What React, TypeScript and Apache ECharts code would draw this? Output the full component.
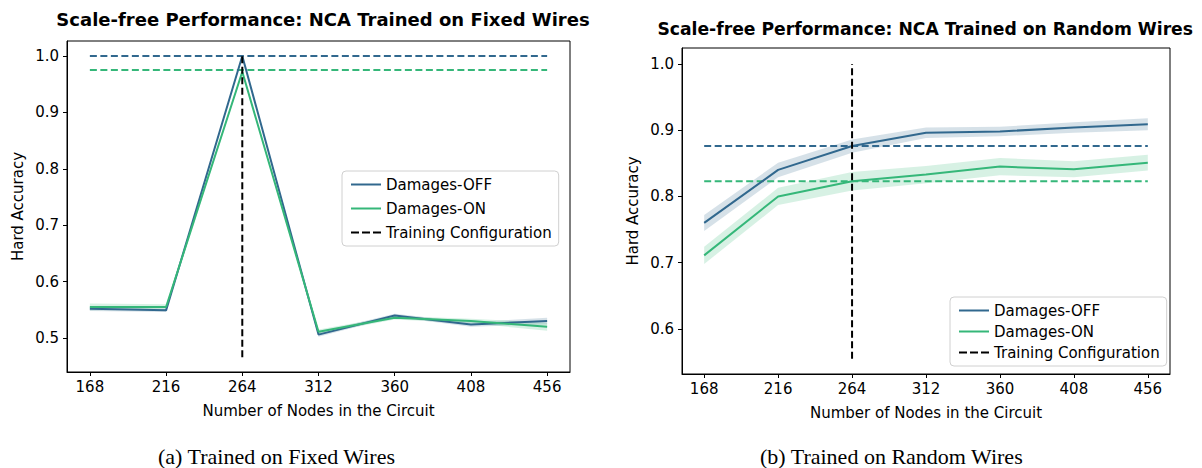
import React, { useEffect, useRef } from "react";
import * as echarts from "echarts";

const nodes = [168, 216, 264, 312, 360, 408, 456];
const yTicksA = [0.5, 0.6, 0.7, 0.8, 0.9, 1.0];
const yTicksB = [0.6, 0.7, 0.8, 0.9, 1.0];

// (a) Fixed wires
const offA = [0.552, 0.549, 1.0, 0.506, 0.540, 0.524, 0.530];
const offAErr = [0.004, 0.003, 0.002, 0.004, 0.003, 0.004, 0.006];
const onA = [0.555, 0.555, 0.972, 0.511, 0.536, 0.530, 0.520];
const onAErr = [0.006, 0.005, 0.003, 0.004, 0.003, 0.004, 0.007];
const refOffA = 1.0;
const refOnA = 0.975;
const vlineA = [0.466, 1.0];

// (b) Random wires
const offB = [0.760, 0.840, 0.876, 0.896, 0.898, 0.904, 0.909];
const offBErr = [0.012, 0.011, 0.010, 0.008, 0.007, 0.008, 0.009];
const onB = [0.711, 0.800, 0.823, 0.833, 0.845, 0.841, 0.851];
const onBErr = [0.013, 0.013, 0.014, 0.013, 0.013, 0.012, 0.012];
const refOffB = 0.876;
const refOnB = 0.823;
const vlineB = [0.555, 1.0];

const trainNodes = 264;
const C_OFF = "#31688e";
const C_ON = "#35b779";
const FONT = "DejaVu Sans";

function band(xi: number, yi: number, mean: number[], err: number[], color: string) {
  return {
    type: "custom",
    xAxisIndex: xi,
    yAxisIndex: yi,
    silent: true,
    z: 1,
    data: nodes.map((x, i) => [x, mean[i] - err[i], mean[i] + err[i]]),
    encode: { x: 0, y: [1, 2] },
    renderItem: (params: any, api: any) => {
      if (params.dataIndex !== 0) return { type: "group", children: [] };
      const up = nodes.map((x, i) => api.coord([x, mean[i] + err[i]]));
      const lo = nodes.map((x, i) => api.coord([x, mean[i] - err[i]])).reverse();
      return {
        type: "polygon",
        shape: { points: up.concat(lo) },
        style: { fill: color, opacity: 0.2 },
      };
    },
  };
}

function line(name: string, xi: number, vals: number[], color: string) {
  return {
    type: "line",
    name,
    xAxisIndex: xi,
    yAxisIndex: xi,
    data: nodes.map((x, i) => [x, vals[i]]),
    symbol: "none",
    lineStyle: { color, width: 2 },
    itemStyle: { color },
    z: 3,
  };
}

function hline(xi: number, v: number, color: string) {
  return {
    type: "line",
    name: "ref",
    xAxisIndex: xi,
    yAxisIndex: xi,
    data: [
      [nodes[0], v],
      [nodes[nodes.length - 1], v],
    ],
    symbol: "none",
    lineStyle: { color, width: 2, type: [7, 3.5] },
    z: 2,
  };
}

function vline(xi: number, range: number[]) {
  return {
    type: "line",
    name: "Training Configuration",
    xAxisIndex: xi,
    yAxisIndex: xi,
    data: [
      [trainNodes, range[0]],
      [trainNodes, range[1]],
    ],
    symbol: "none",
    lineStyle: { color: "#000", width: 2, type: [7, 3.5] },
    itemStyle: { color: "#000" },
    z: 4,
  };
}

function xAxis(gi: number) {
  return {
    type: "value",
    gridIndex: gi,
    min: 153.6,
    max: 470.4,
    name: "Number of Nodes in the Circuit",
    nameLocation: "middle",
    nameGap: 31,
    nameTextStyle: { fontFamily: FONT, fontSize: 15, color: "#000" },
    axisLine: { show: true, lineStyle: { color: "#000", width: 1 } },
    axisTick: { show: true, inside: false, length: 4, customValues: nodes, lineStyle: { color: "#000" } },
    axisLabel: { customValues: nodes, fontFamily: FONT, fontSize: 15, color: "#000", margin: 7 },
    splitLine: { show: false },
  };
}

function yAxis(gi: number, min: number, max: number, ticks: number[]) {
  return {
    type: "value",
    gridIndex: gi,
    min,
    max,
    name: "Hard Accuracy",
    nameLocation: "middle",
    nameGap: 42,
    nameTextStyle: { fontFamily: FONT, fontSize: 15, color: "#000" },
    axisLine: { show: true, lineStyle: { color: "#000", width: 1 } },
    axisTick: { show: true, inside: false, length: 4, customValues: ticks, lineStyle: { color: "#000" } },
    axisLabel: {
      customValues: ticks,
      fontFamily: FONT,
      fontSize: 15,
      color: "#000",
      margin: 8,
      formatter: (v: number) => v.toFixed(1),
    },
    splitLine: { show: false },
  };
}

function legend(left: number, top: number, gap: number) {
  return {
    left,
    top,
    orient: "vertical",
    itemWidth: 30,
    itemHeight: 10,
    itemGap: gap,
    padding: [6, 7, 6, 9],
    borderColor: "#d0d0d0",
    borderWidth: 1,
    borderRadius: 4,
    backgroundColor: "rgba(255,255,255,0.8)",
    textStyle: { fontFamily: FONT, fontSize: 15, color: "#000" },
    selectedMode: false,
    data: [
      { name: "Damages-OFF", icon: "path://M0,0 L30,0 L30,2 L0,2 Z", itemStyle: { color: C_OFF } },
      { name: "Damages-ON", icon: "path://M0,0 L30,0 L30,2 L0,2 Z", itemStyle: { color: C_ON } },
      {
        name: "Training Configuration",
        icon: "path://M0,0 L8,0 L8,2 L0,2 Z M11,0 L19,0 L19,2 L11,2 Z M22,0 L30,0 L30,2 L22,2 Z",
        itemStyle: { color: "#000" },
      },
    ],
  };
}

export default function App() {
  const ref = useRef<HTMLDivElement>(null);
  useEffect(() => {
    document.body.style.margin = "0";
    const chart = echarts.init(ref.current!, null, { renderer: "svg" });
    chart.setOption({
      animation: false,
      backgroundColor: "#fff",
      title: [
        {
          text: "Scale-free Performance: NCA Trained on Fixed Wires",
          left: 318,
          top: 5,
          textAlign: "center",
          textStyle: { fontFamily: FONT, fontSize: 18, fontWeight: "bold", color: "#000" },
        },
        {
          text: "Scale-free Performance: NCA Trained on Random Wires",
          right: 4,
          top: 15,
          textStyle: { fontFamily: FONT, fontSize: 17.2, fontWeight: "bold", color: "#000" },
        },
      ],
      graphic: [
        {
          type: "text",
          left: 158,
          top: 445,
          style: { text: "(a) Trained on Fixed Wires", font: "22px 'Liberation Serif'", fill: "#000" },
        },
        {
          type: "text",
          left: 760,
          top: 445,
          style: { text: "(b) Trained on Random Wires", font: "22px 'Liberation Serif'", fill: "#000" },
        },
      ],
      legend: [legend(342, 171, 9), legend(950, 297, 6)],
      grid: [
        { left: 67, top: 41, width: 503, height: 331, show: true, borderColor: "#000", borderWidth: 1, backgroundColor: "transparent" },
        { left: 682, top: 48, width: 488, height: 326, show: true, borderColor: "#000", borderWidth: 1, backgroundColor: "transparent" },
      ],
      xAxis: [xAxis(0), xAxis(1)],
      yAxis: [yAxis(0, 0.4397, 1.0266, yTicksA), yAxis(1, 0.532, 1.024, yTicksB)],
      series: [
        band(0, 0, offA, offAErr, C_OFF),
        band(0, 0, onA, onAErr, C_ON),
        hline(0, refOffA, C_OFF),
        hline(0, refOnA, C_ON),
        line("Damages-OFF", 0, offA, C_OFF),
        line("Damages-ON", 0, onA, C_ON),
        vline(0, vlineA),
        band(1, 1, offB, offBErr, C_OFF),
        band(1, 1, onB, onBErr, C_ON),
        hline(1, refOffB, C_OFF),
        hline(1, refOnB, C_ON),
        line("Damages-OFF", 1, offB, C_OFF),
        line("Damages-ON", 1, onB, C_ON),
        vline(1, vlineB),
      ],
    });
    return () => chart.dispose();
  }, []);
  return <div ref={ref} style={{ width: 1202, height: 468 }} />;
}
